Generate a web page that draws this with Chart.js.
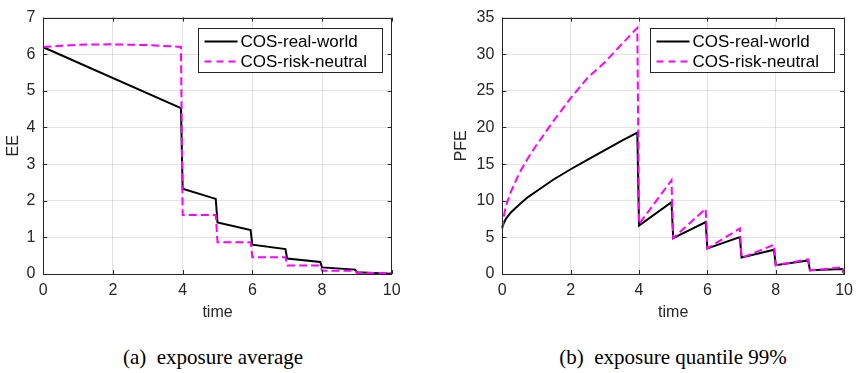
<!DOCTYPE html>
<html>
<head>
<meta charset="utf-8">
<script src="https://cdn.jsdelivr.net/npm/chart.js@4.4.1/dist/chart.umd.min.js"></script>
<style>
  body { margin: 0; background: #fff; width: 860px; height: 373px; overflow: hidden; position: relative; }
  canvas { position: absolute; top: 0; }
  .cap { position: absolute; top: 345px; font-family: 'Liberation Serif', serif; font-size: 21px; color: #000; white-space: pre; transform: translateX(-50%); }
</style>
</head>
<body>
<canvas id="eeChart" width="430" height="330" style="left:0"></canvas>
<canvas id="pfeChart" width="430" height="330" style="left:430px"></canvas>
<div class="cap" style="left:213px">(a)  exposure average</div>
<div class="cap" style="left:673px">(b)  exposure quantile 99%</div>
<script>
// series labels
const seriesNames = ['COS-real-world', 'COS-risk-neutral'];

// (a) expected exposure
const eeTimeReal = [0, 3.95, 4.0, 4.95, 5.0, 5.95, 6.0, 6.95, 7.0, 7.95, 8.0, 8.95, 9.0, 10];
const eeReal     = [6.19, 4.53, 2.33, 2.05, 1.41, 1.20, 0.80, 0.68, 0.42, 0.33, 0.18, 0.12, 0.05, 0.01];
const eeTimeRisk = [0, 0.5, 1, 2, 3, 3.95, 4.0, 4.95, 5.0, 5.95, 6.0, 6.95, 7.0, 7.95, 8.0, 8.95, 9.0, 10];
const eeRisk     = [6.2, 6.23, 6.26, 6.27, 6.25, 6.2, 1.61, 1.61, 0.87, 0.87, 0.46, 0.46, 0.23, 0.23, 0.09, 0.09, 0.03, 0.03];

// (b) potential future exposure, 99% quantile
const pfeTime = [0, 0.05, 0.1, 0.25, 0.5, 0.75, 1, 1.5, 2, 2.5, 3, 3.5, 3.95, 4.0, 4.95, 5.0, 5.95, 6.0, 6.95, 7.0, 7.95, 8.0, 8.95, 9.0, 9.95, 10];
const pfeReal = [6.4, 7.0, 7.5, 8.4, 9.5, 10.5, 11.3, 12.9, 14.3, 15.6, 16.9, 18.2, 19.3, 6.6, 9.8, 4.9, 7.1, 3.5, 5.05, 2.25, 3.3, 1.2, 1.85, 0.5, 0.68, 0];
const pfeRisk = [6.2, 8.0, 9.2, 11.2, 13.8, 15.8, 17.6, 20.9, 24.0, 26.8, 28.9, 31.4, 33.6, 6.8, 12.8, 4.9, 8.9, 3.5, 6.2, 2.2, 4.0, 1.2, 2.0, 0.5, 0.9, 0];

const xTicks = [0, 2, 4, 6, 8, 10];
const eeTicks = [0, 1, 2, 3, 4, 5, 6, 7];
const pfeTicks = [0, 5, 10, 15, 20, 25, 30, 35];

const AX = '#262626';
const FONT = "'Liberation Sans', Arial, sans-serif";

function pts(xs, ys) { return xs.map((x, i) => ({ x: x, y: ys[i] })); }

// box with inward ticks, matlab style
const boxPlugin = {
  id: 'box',
  afterDatasetsDraw(chart) {
    const { ctx, chartArea: a, scales } = chart;
    ctx.save();
    ctx.strokeStyle = AX;
    ctx.lineWidth = 1;
    ctx.strokeRect(Math.round(a.left) + 0.5, Math.round(a.top) + 0.5, Math.round(a.right - a.left), Math.round(a.bottom - a.top));
    ctx.beginPath();
    scales.x.ticks.forEach(t => {
      const px = Math.round(scales.x.getPixelForValue(t.value)) + 0.5;
      ctx.moveTo(px, a.bottom); ctx.lineTo(px, a.bottom - 4);
      ctx.moveTo(px, a.top); ctx.lineTo(px, a.top + 4);
    });
    scales.y.ticks.forEach(t => {
      const py = Math.round(scales.y.getPixelForValue(t.value)) + 0.5;
      ctx.moveTo(a.left, py); ctx.lineTo(a.left + 4, py);
      ctx.moveTo(a.right, py); ctx.lineTo(a.right - 4, py);
    });
    ctx.stroke();

    // legend box
    const w = 184, h = 44;
    const bx = Math.round(a.right - 10 - w) + 0.5, by = Math.round(a.top + 10) + 0.5;
    ctx.fillStyle = '#fff';
    ctx.fillRect(bx, by, w, h);
    ctx.strokeStyle = '#262626';
    ctx.strokeRect(bx, by, w, h);
    ctx.font = '17px ' + FONT;
    ctx.textBaseline = 'middle';
    ctx.fillStyle = '#000';
    chart.data.datasets.forEach((ds, i) => {
      const ly = by + 13 + i * 20;
      ctx.beginPath();
      ctx.strokeStyle = ds.borderColor;
      ctx.lineWidth = 2;
      ctx.setLineDash(ds.borderDash && ds.borderDash.length ? [7, 5] : []);
      ctx.moveTo(bx + 6, ly); ctx.lineTo(bx + 39, ly);
      ctx.stroke();
      ctx.setLineDash([]);
      ctx.fillText(ds.label, bx + 42, ly + 1);
    });
    ctx.restore();
  }
};

function makeChart(id, realData, riskData, yTicks, yTitle, opt) {
  return new Chart(document.getElementById(id), {
    type: 'line',
    data: {
      datasets: [
        { label: seriesNames[0], data: realData, borderColor: '#000', borderWidth: 2, pointRadius: 0, tension: 0, order: 1, clip: 4 },
        { label: seriesNames[1], data: riskData, borderColor: '#ff00ff', borderWidth: 2, borderDash: [8, 4], pointRadius: 0, tension: 0, order: 0, clip: 4 }
      ]
    },
    options: {
      responsive: false,
      animation: false,
      layout: { padding: { left: opt.padLeft, right: opt.padRight, top: 9, bottom: 0 } },
      plugins: { legend: { display: false }, tooltip: { enabled: false } },
      scales: {
        x: {
          type: 'linear', min: 0, max: 10,
          afterBuildTicks(s) { s.ticks = xTicks.map(v => ({ value: v })); },
          afterFit(s) { s.height = 56; },
          grid: { color: 'rgba(38,38,38,0.13)', drawTicks: false },
          border: { display: false },
          ticks: { color: AX, font: { family: FONT, size: 16 }, padding: 7, maxRotation: 0 },
          title: { display: true, text: 'time', color: AX, font: { family: FONT, size: 16 }, padding: { top: 0, bottom: 8 } }
        },
        y: {
          type: 'linear', min: 0, max: yTicks[yTicks.length - 1],
          afterBuildTicks(s) { s.ticks = yTicks.map(v => ({ value: v })); },
          afterFit(s) { s.width = opt.axisWidth; },
          grid: { color: 'rgba(38,38,38,0.13)', drawTicks: false },
          border: { display: false },
          ticks: { color: AX, font: { family: FONT, size: 16 }, padding: 8 },
          title: { display: true, text: yTitle, color: AX, font: { family: FONT, size: 16 }, padding: { top: 4, bottom: 0 } }
        }
      }
    },
    plugins: [boxPlugin]
  });
}

makeChart('eeChart', pts(eeTimeReal, eeReal), pts(eeTimeRisk, eeRisk), eeTicks, 'EE',
  { padLeft: 0, padRight: 38.3, axisWidth: 43.3 });
makeChart('pfeChart', pts(pfeTime, pfeReal), pts(pfeTime, pfeRisk), pfeTicks, 'PFE',
  { padLeft: 18, padRight: 8.3, axisWidth: 54.3 });
</script>
</body>
</html>
